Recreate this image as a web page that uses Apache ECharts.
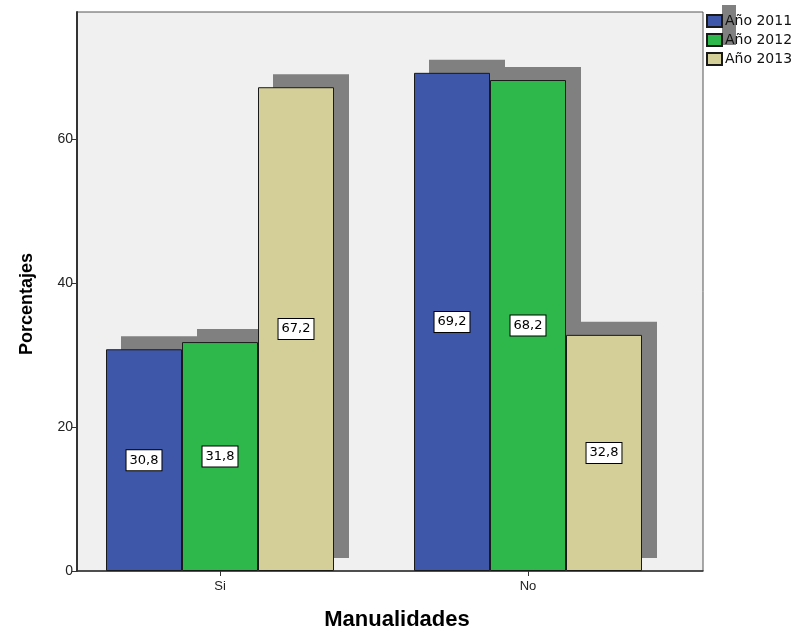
<!DOCTYPE html>
<html><head><meta charset="utf-8">
<script src="https://cdn.jsdelivr.net/npm/echarts@6/dist/echarts.min.js"></script>
<style>html,body{margin:0;padding:0;background:#fff}#c{width:801px;height:638px}</style>
</head><body><div id="c"></div>
<script>
var categories = ['Si', 'No'];
var seriesNames = ['Año 2011', 'Año 2012', 'Año 2013'];
var values2011 = [30.8, 69.2];
var values2012 = [31.8, 68.2];
var values2013 = [67.2, 32.8];
var yTicks = [0, 20, 40, 60];
var yMax = 77.65;
var xTitle = 'Manualidades';
var yTitle = 'Porcentajes';

var colors = ['#3e57a8', '#2eb84b', '#d4cf99'];
var allValues = [values2011, values2012, values2013];

var shadowData = [];
allValues.forEach(function (arr, s) {
  arr.forEach(function (v, i) { shadowData.push([i, v, s]); });
});

var barSeries = allValues.map(function (arr, s) {
  return {
    name: seriesNames[s], type: 'bar', xAxisIndex: 1, yAxisIndex: 1,
    data: arr, barWidth: 76, barGap: '0%', z: 3,
    itemStyle: { color: colors[s], borderColor: '#1a1a1a', borderWidth: 1 },
    label: {
      show: true, position: 'inside', color: '#000', fontSize: 13,
      fontFamily: 'DejaVu Sans, sans-serif',
      backgroundColor: '#fff', borderColor: '#000', borderWidth: 1, padding: [4, 3, 3, 3],
      formatter: function (p) { return String(p.value.toFixed(1)).replace('.', ','); }
    }
  };
});

var option = {
  animation: false,
  backgroundColor: '#fff',
  textStyle: { fontFamily: 'DejaVu Sans, sans-serif' },
  grid: [
    { left: 77, top: 12, width: 626, height: 559, show: true, backgroundColor: '#f0f0f0', borderColor: '#555', borderWidth: 1, z: 0 },
    { left: 66, top: 12, width: 616, height: 559, show: false }
  ],
  xAxis: [
    { gridIndex: 0, type: 'value', min: 0, max: 1, axisLine: { show: true, lineStyle: { color: '#333', width: 1.5 } }, axisTick: { show: false }, axisLabel: { show: false }, splitLine: { show: false } },
    { gridIndex: 1, type: 'category', data: categories,
      axisLine: { show: false },
      axisTick: { show: true, alignWithLabel: true, length: 5, lineStyle: { color: '#333' } },
      axisLabel: { fontSize: 13, color: '#222', margin: 9, fontFamily: 'Liberation Sans, Arial, sans-serif' } }
  ],
  yAxis: [
    { gridIndex: 0, type: 'value', min: 0, max: yMax,
      axisLine: { show: true, lineStyle: { color: '#333', width: 2 } },
      axisTick: { show: true, length: 5, customValues: yTicks, lineStyle: { color: '#333' } },
      axisLabel: { customValues: yTicks, fontSize: 14, color: '#222', margin: 4, fontFamily: 'Liberation Sans, Arial, sans-serif' },
      splitLine: { show: false } },
    { gridIndex: 1, type: 'value', min: 0, max: yMax, show: false, splitLine: { show: false } }
  ],
  legend: {
    data: seriesNames, orient: 'vertical', left: 706, top: 14, itemWidth: 15, itemHeight: 12, itemGap: 5,
    padding: 0, icon: 'rect', z: 5,
    textStyle: { fontSize: 14, color: '#111', padding: [0, 0, 0, -2] }
  },
  graphic: [
    { type: 'rect', z: 1, shape: { x: 722, y: 5, width: 14, height: 40 }, style: { fill: '#808080' } },
    { type: 'text', z: 5, x: 27, y: 304, rotation: Math.PI / 2, style: { text: yTitle, x: 0, y: 0, align: 'center', verticalAlign: 'middle', fill: '#000', font: 'bold 18px Liberation Sans, Arial, sans-serif' } },
    { type: 'text', z: 5, x: 397, y: 620, style: { text: xTitle, x: 0, y: 0, align: 'center', verticalAlign: 'middle', fill: '#000', font: 'bold 22px Liberation Sans, Arial, sans-serif' } }
  ],
  series: [{
    type: 'custom', xAxisIndex: 1, yAxisIndex: 1, z: 2, silent: true,
    data: shadowData,
    renderItem: function (params, api) {
      var c = api.value(0), v = api.value(1), s = api.value(2);
      var top = api.coord([c, v]);
      var base = api.coord([c, 0]);
      var x = top[0] + (s - 1) * 76 - 38 + 15;
      return { type: 'rect', shape: { x: x, y: top[1] - 13, width: 76, height: base[1] - top[1] }, style: { fill: '#808080' } };
    }
  }].concat(barSeries)
};
var chart = echarts.init(document.getElementById('c'));
chart.setOption(option);
</script></body></html>
